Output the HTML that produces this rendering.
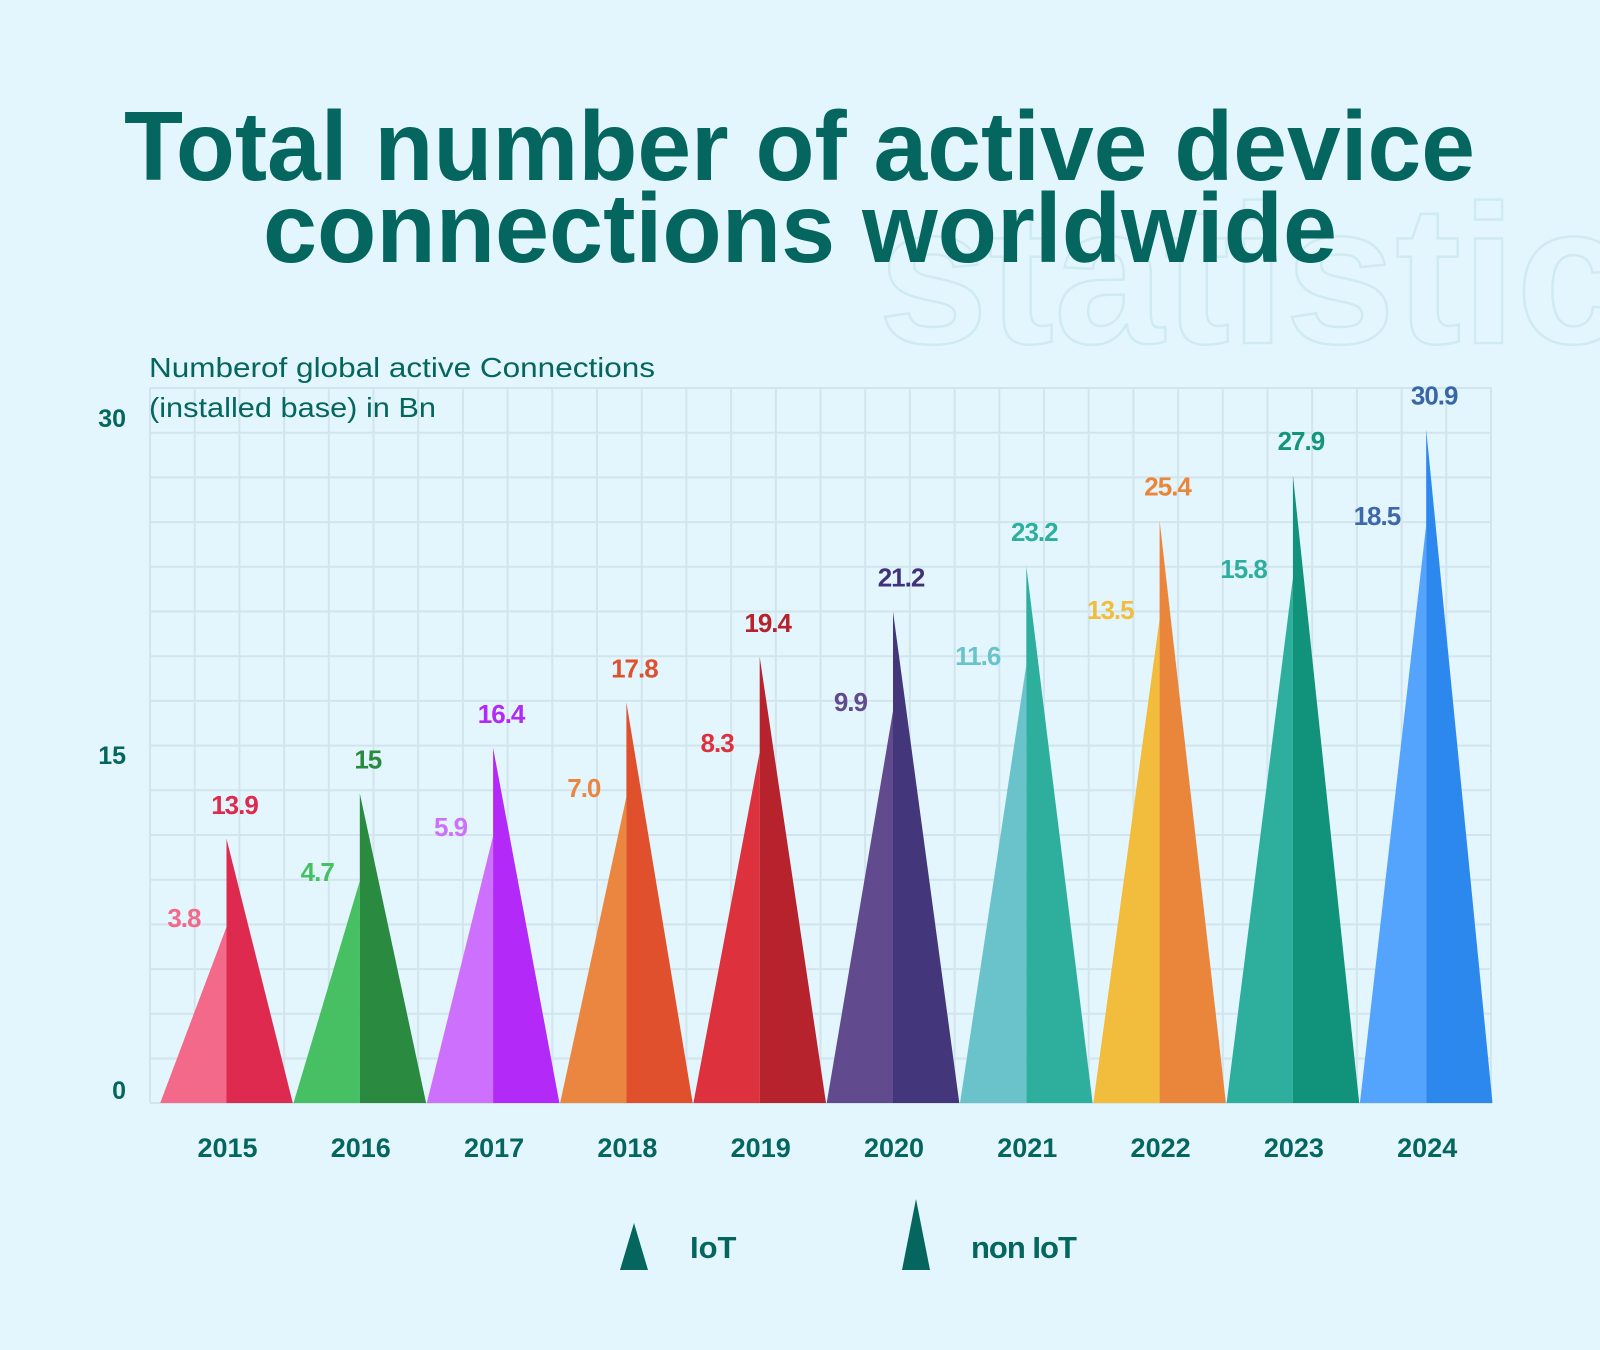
<!DOCTYPE html>
<html><head><meta charset="utf-8"><style>
html,body{margin:0;padding:0;background:#e3f6fd;}
svg{display:block;font-family:"Liberation Sans",sans-serif;}
</style></head><body>
<svg width="1600" height="1350" viewBox="0 0 1600 1350" xmlns="http://www.w3.org/2000/svg">
<rect width="1600" height="1350" fill="#e3f6fd"/>
<text x="878" y="343" font-size="198" font-weight="bold" fill="none" stroke="#d0eaf2" stroke-width="2.5">statistics</text>
<text x="124" y="180" font-size="98" font-weight="bold" fill="#04665f" textLength="1351" lengthAdjust="spacingAndGlyphs">Total number of active device</text>
<text x="263" y="262" font-size="98" font-weight="bold" fill="#04665f" textLength="1074" lengthAdjust="spacingAndGlyphs">connections worldwide</text>
<g stroke="#d2e4ec" stroke-width="2">
<path d="M150 388H1492M150 432.7H1492M150 477.4H1492M150 522.1H1492M150 566.8H1492M150 611.5H1492M150 656.2H1492M150 700.9H1492M150 745.6H1492M150 790.3H1492M150 835H1492M150 879.7H1492M150 924.4H1492M150 969.1H1492M150 1013.8H1492M150 1058.5H1492M150 1103H1492"/>
<path d="M150 388V1103M194.7 388V1103M239.4 388V1103M284.1 388V1103M328.8 388V1103M373.5 388V1103M418.2 388V1103M462.9 388V1103M507.6 388V1103M552.3 388V1103M597 388V1103M641.7 388V1103M686.4 388V1103M731.1 388V1103M775.8 388V1103M820.5 388V1103M865.2 388V1103M909.9 388V1103M954.6 388V1103M999.3 388V1103M1044 388V1103M1088.7 388V1103M1133.4 388V1103M1178.1 388V1103M1222.8 388V1103M1267.5 388V1103M1312.2 388V1103M1356.9 388V1103M1401.6 388V1103M1446.3 388V1103M1491 388V1103"/>
</g>
<text x="149" y="377" font-size="28" fill="#04665f" textLength="506" lengthAdjust="spacingAndGlyphs">Numberof global active Connections</text>
<text x="149" y="417" font-size="28" fill="#04665f" textLength="287" lengthAdjust="spacingAndGlyphs">(installed base) in Bn</text>
<g font-size="25" font-weight="bold" fill="#04665f" text-anchor="end">
<text x="126" y="427">30</text><text x="126" y="764">15</text><text x="126" y="1099">0</text>
</g>
<g id="bars"></g>
<g font-size="27" font-weight="bold" fill="#04665f" text-anchor="middle" id="years"></g>
<polygon points="620,1270 634,1223 648,1270" fill="#04665f"/>
<text x="690" y="1258" font-size="31" font-weight="bold" fill="#04665f">IoT</text>
<polygon points="902,1270 916,1199 930,1270" fill="#04665f"/>
<text x="971" y="1258" font-size="31" font-weight="bold" fill="#04665f" letter-spacing="-1">non IoT</text>
</svg>
<script>
var d=[
["2015","3.8","13.9","#f2698a","#dd2a4e","#f2698a","#dd2a4e",927],
["2016","4.7","15","#46c063","#2a8a40","#46c063","#2a8a40",881],
["2017","5.9","16.4","#cd70fd","#b229f8","#cd70fd","#b229f8",836],
["2018","7.0","17.8","#ea8640","#e0502c","#ea8640","#e0502c",797],
["2019","8.3","19.4","#de313e","#b6232d","#de313e","#b6232d",752],
["2020","9.9","21.2","#614b8e","#43367a","#614b8e","#3f327a",711],
["2021","11.6","23.2","#6ac3ca","#2eaf9e","#6ac3ca","#2eaf9e",665],
["2022","13.5","25.4","#f2bc3c","#ea853c","#f2bc3c","#ea853c",619],
["2023","15.8","27.9","#2eaf9e","#11927a","#2eaf9e","#13957b",578],
["2024","18.5","30.9","#54a3fd","#2d88ee","#3f68a8","#3867a8",525]];
var ns="http://www.w3.org/2000/svg",g=document.getElementById("bars"),yg=document.getElementById("years");
function el(p,t,a,txt){var e=document.createElementNS(ns,t);for(var k in a)e.setAttribute(k,a[k]);if(txt)e.textContent=txt;p.appendChild(e);return e;}
d.forEach(function(r,i){
 var c=226.5+i*133.3,h=66.3,B=1103,apex=838.8-45.47*i,lt=r[7];
 el(g,"polygon",{points:(c-h)+","+B+" "+c+","+lt+" "+c+","+B,fill:r[3]});
 el(g,"polygon",{points:c+","+B+" "+c+","+apex+" "+(c+h)+","+B,fill:r[4]});
 el(g,"text",{x:c-26,y:lt,"font-size":26,"font-weight":"bold",fill:r[5],"text-anchor":"end","letter-spacing":"-1"},r[1]);
 el(g,"text",{x:c+8,y:apex-25,"font-size":26,"font-weight":"bold",fill:r[6],"text-anchor":"middle","letter-spacing":"-1"},r[2]);
 el(yg,"text",{x:c+1,y:1157},r[0]);
});
</script>
</body></html>
